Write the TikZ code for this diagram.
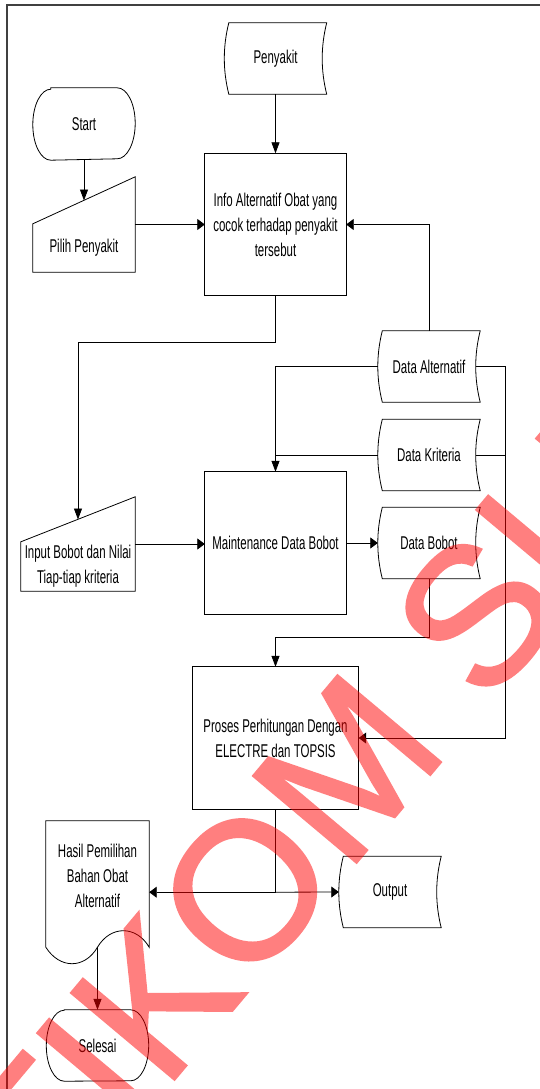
\documentclass[tikz,border=0pt]{standalone}
\usepackage{fontspec}
\setmainfont{Liberation Sans}[FakeStretch=0.62]
\newfontfamily\wmfont{Liberation Sans}[FakeBold=1.2]
\usetikzlibrary{arrows.meta,calc}

\tikzset{
  shp/.style 2 args={draw=none,inner sep=0pt,minimum width=#1,minimum height=#2,align=center},
  ol/.style={draw=black,line width=0.8pt},
  av/.style={ol,-{Triangle[length=11pt,width=8pt]}},
  ah/.style={ol,-{Triangle[length=7.5pt,width=11pt]}},
  framec/.style={draw=black!75,line width=1.3pt},
  wm/.style={font=\wmfont\fontsize{196}{196}\selectfont,text=red,inner sep=0pt}
}

% outline helpers
\newcommand\sdshape[1]{\draw[ol] ($(#1.north west)+(4.5,0)$) -- (#1.north east)
  .. controls ($(#1.north east)+(-6,24)$) and ($(#1.south east)+(-6,-24)$) .. (#1.south east)
  -- ($(#1.south west)+(4.5,0)$)
  .. controls ($(#1.south west)+(-1.5,-24)$) and ($(#1.north west)+(-1.5,24)$) .. ($(#1.north west)+(4.5,0)$) -- cycle;}
\newcommand\tmshape[1]{\draw[ol] ($(#1.north west)+(18,0)$) -- ($(#1.north east)+(-18,0)$)
  arc[start angle=90,end angle=-90,x radius=18pt,y radius=35.5pt]
  -- ($(#1.south west)+(18,0)$)
  arc[start angle=270,end angle=90,x radius=18pt,y radius=35.5pt] -- cycle;}
\newcommand\mishape[2]{\draw[ol] (#1.south west) -- ($(#1.north west)+(0,#2)$) -- (#1.north east) -- (#1.south east) -- cycle;}
\newcommand\docshape[1]{\draw[ol] ($(#1.south east)+(0,-16)$) -- (#1.north east) -- (#1.north west) -- ($(#1.south west)+(0,-16)$)
  .. controls ($(#1.south west)+(14,6)$) and ($(#1.south)+(-13,6)$) .. ($(#1.south)+(0,-16)$)
  .. controls ($(#1.south)+(13,-38)$) and ($(#1.south east)+(-13,-38)$) .. ($(#1.south east)+(0,-16)$) -- cycle;}

\begin{document}
\begin{tikzpicture}[x=1pt,y=-1pt,font=\fontsize{18.5}{25}\selectfont]
\useasboundingbox[fill=white] (0,0) rectangle (540,1089);
\clip (0,0) rectangle (540,1089);

% frame
\draw[framec] (7,1089) -- (7,5) -- (540,5);

% nodes
\node[shp={102pt}{71pt}] (pen) at (275.5,58.5) {Penyakit};
\node[shp={102pt}{72pt}] (start) at (84,124) {Start};
\node[shp={102pt}{95pt},label={[yshift=-23.5pt]center:Pilih Penyakit}] (pilih) at (84,224.5) {};
\node[shp={141pt}{142pt}] (info) at (275.5,224.5) {Info Alternatif Obat yang\\cocok terhadap penyakit\\tersebut};
\node[shp={102pt}{71pt}] (dalt) at (429,366.5) {Data Alternatif};
\node[shp={102pt}{71pt}] (dkri) at (429,455) {Data Kriteria};
\node[shp={102pt}{71pt}] (dbob) at (429,543) {Data Bobot};
\node[shp={114pt}{94pt},label={[yshift=-22pt,align=center]center:{Input Bobot dan Nilai\\Tiap-tiap kriteria}}] (input) at (78,544) {};
\node[shp={141pt}{142pt}] (maint) at (275.5,543) {Maintenance Data Bobot};
\node[shp={166pt}{142pt}] (proses) at (275.5,738) {Proses Perhitungan Dengan\\ELECTRE dan TOPSIS};
\node[shp={103pt}{142pt},label={[yshift=16.5pt,align=center]center:{Hasil Pemilihan\\Bahan Obat\\Alternatif}}] (hasil) at (97.5,892) {};
\node[shp={102pt}{71pt}] (output) at (390,892) {Output};
\node[shp={102pt}{71pt}] (selesai) at (97.5,1045.5) {Selesai};

% outlines
\sdshape{pen}
\tmshape{start}
\mishape{pilih}{47}
\draw[ol] (info.north west) rectangle (info.south east);
\sdshape{dalt}
\sdshape{dkri}
\sdshape{dbob}
\mishape{input}{45}
\draw[ol] (maint.north west) rectangle (maint.south east);
\draw[ol] (proses.north west) rectangle (proses.south east);
\docshape{hasil}
\sdshape{output}
\tmshape{selesai}

% connectors
\coordinate (pilihslant) at (84,200.5);
\coordinate (inslant) at (78,519.5);
\coordinate (busR) at (505.5,366.5);

\draw[av] (pen.south) -- (info.north);
\draw[av] (start.south) -- (pilihslant);
\draw[ah] (pilih.east) -- (info.west);
\draw[ah] (dalt.north) |- (info.east);
\draw[av] (info.south) -- ++(0,46.5) -| (inslant);
\draw[av] (dalt.west) -| (maint.north);
\draw[ol] (dkri.west) -- (dkri.west -| maint.north);
\draw[ah] ($(dalt.east)+(-4.5,0)$) -- (busR) |- (proses.east);
\draw[ol] ($(dkri.east)+(-4.5,0)$) -- (dkri.east -| busR);
\draw[ah] (input.east) -- (input.east -| maint.west);
\draw[ah] (maint.east) -- (dbob.west);
\draw[av] (dbob.south) -- ++(0,58.5) -| (proses.north);
\draw[ol] (proses.south) -- ++(0,83) coordinate (split);
\draw[ah] (split) -- (split -| hasil.east);
\draw[ah] (split) -- (output.west);
\draw[av] ($(hasil.south)+(0,-16)$) -- (selesai.north);

% watermark
\begin{scope}[transparency group,opacity=0.5]
\node[wm,rotate=50,anchor=base west] (wmark) at (-32,1325.6) {STIKOM SURABAYA};
\end{scope}
\end{tikzpicture}
\end{document}
